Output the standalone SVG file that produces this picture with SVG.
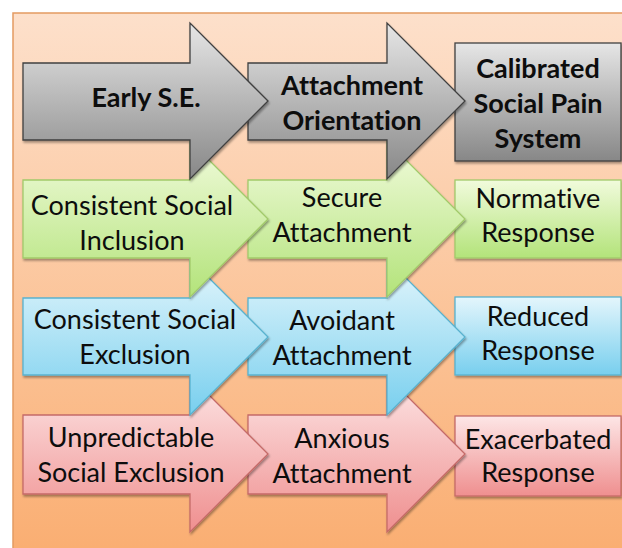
<svg xmlns="http://www.w3.org/2000/svg" width="622" height="548" viewBox="0 0 622 548">
<defs>
<linearGradient id="bg" x1="0" y1="0" x2="0" y2="1"><stop offset="0" stop-color="#fde0cb"/><stop offset="1" stop-color="#faae72"/></linearGradient>
<linearGradient id="gGray" x1="0" y1="0" x2="0" y2="1"><stop offset="0" stop-color="#e6e6e6"/><stop offset="1" stop-color="#878787"/></linearGradient>
<linearGradient id="gGreen" x1="0" y1="0" x2="0" y2="1"><stop offset="0" stop-color="#f1fbdc"/><stop offset="1" stop-color="#b3e37a"/></linearGradient>
<linearGradient id="gBlue" x1="0" y1="0" x2="0" y2="1"><stop offset="0" stop-color="#e4f6fc"/><stop offset="1" stop-color="#78cfee"/></linearGradient>
<linearGradient id="gPink" x1="0" y1="0" x2="0" y2="1"><stop offset="0" stop-color="#fde6e6"/><stop offset="1" stop-color="#ef8f8f"/></linearGradient>
<filter id="sh" x="-10%" y="-10%" width="120%" height="125%"><feDropShadow dx="1" dy="2" stdDeviation="1.2" flood-color="#000" flood-opacity="0.35"/></filter>
</defs>
<style>
.gray{fill:url(#gGray);stroke:#404040;stroke-width:1.3;filter:url(#sh)}
.green{fill:url(#gGreen);stroke:#a2ca6a;stroke-width:1.3;filter:url(#sh)}
.blue{fill:url(#gBlue);stroke:#58b2cf;stroke-width:1.3;filter:url(#sh)}
.pink{fill:url(#gPink);stroke:#c56a68;stroke-width:1.3;filter:url(#sh)}
text{font-family:Lato,"Open Sans",sans-serif;font-size:27px;fill:#0d0d0d;text-anchor:middle;font-variant-ligatures:none}
.b{font-weight:bold}
</style>
<rect x="13" y="13" width="615" height="540" fill="url(#bg)" stroke="#e49a62" stroke-width="1.5"/>
<g id="connectors"/>

<!-- Row 4 pink -->
<g id="exacerbated-response"><rect class="pink" x="455" y="416" width="166" height="80"/><text x="538" y="449">Exacerbated</text><text x="538" y="482">Response</text></g>
<g id="anxious-attachment"><path class="pink" d="M248,415 H387 V376 L465,454 L387,532 V494 H248 Z"/><text x="342" y="448">Anxious</text><text x="342" y="483">Attachment</text></g>
<g id="unpredictable-social-exclusion"><path class="pink" d="M23,415 H190 V376 L268,454 L190,532 V494 H23 Z"/><text x="131" y="447">Unpredictable</text><text x="131" y="482">Social Exclusion</text></g>

<!-- Row 3 blue -->
<g id="reduced-response"><rect class="blue" x="455" y="297" width="166" height="78"/><text x="538" y="326">Reduced</text><text x="538" y="360">Response</text></g>
<g id="avoidant-attachment"><path class="blue" d="M248,298 H387 V259 L465,337 L387,415 V375 H248 Z"/><text x="342" y="330">Avoidant</text><text x="342" y="365">Attachment</text></g>
<g id="consistent-social-exclusion"><path class="blue" d="M23,298 H190 V259 L268,337 L190,415 V375 H23 Z"/><text x="135" y="329">Consistent Social</text><text x="135" y="364">Exclusion</text></g>

<!-- Row 2 green -->
<g id="normative-response"><rect class="green" x="455" y="180" width="166" height="78"/><text x="538" y="208">Normative</text><text x="538" y="242">Response</text></g>
<g id="secure-attachment"><path class="green" d="M248,180 H387 V141 L465,219 L387,297 V258 H248 Z"/><text x="342" y="207">Secure</text><text x="342" y="242">Attachment</text></g>
<g id="consistent-social-inclusion"><path class="green" d="M23,180 H190 V141 L268,219 L190,297 V258 H23 Z"/><text x="132" y="215">Consistent Social</text><text x="132" y="250">Inclusion</text></g>

<!-- Row 1 gray -->
<g id="calibrated-social-pain-system"><rect class="gray" x="455" y="43" width="166" height="118"/><text class="b" x="538" y="78">Calibrated</text><text class="b" x="538" y="113">Social Pain</text><text class="b" x="538" y="148">System</text></g>
<g id="attachment-orientation"><path class="gray" d="M248,63 H387 V23 L465,101 L387,179 V140 H248 Z"/><text class="b" x="352" y="95">Attachment</text><text class="b" x="352" y="130">Orientation</text></g>
<g id="early-se"><path class="gray" d="M23,63 H190 V23 L268,101 L190,179 V140 H23 Z"/><text class="b" x="146" y="107">Early S.E.</text></g>
</svg>
